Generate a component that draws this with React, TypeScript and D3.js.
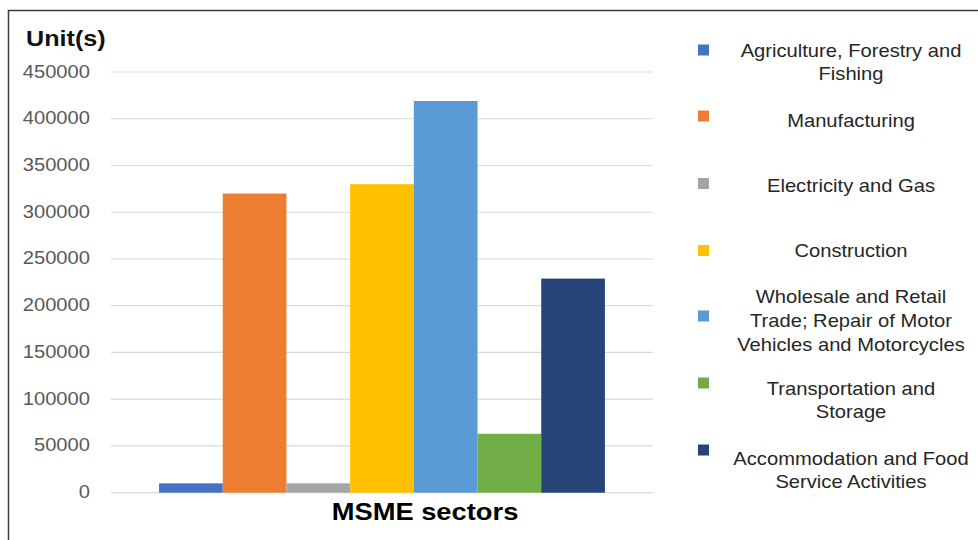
import React from "react";
import * as d3 from "d3";

// ---- data ----
const sectors: string[] = [
  "Agriculture, Forestry and Fishing",
  "Manufacturing",
  "Electricity and Gas",
  "Construction",
  "Wholesale and Retail Trade; Repair of Motor Vehicles and Motorcycles",
  "Transportation and Storage",
  "Accommodation and Food Service Activities",
];
const units: number[] = [10000, 320000, 10000, 330000, 419000, 63000, 229000];
const colors: string[] = ["#4472C4", "#ED7D31", "#A5A5A5", "#FFC000", "#5B9BD5", "#70AD47", "#264478"];
const legendLines: string[][] = [
  ["Agriculture, Forestry and", "Fishing"],
  ["Manufacturing"],
  ["Electricity and Gas"],
  ["Construction"],
  ["Wholesale and Retail", "Trade; Repair of Motor", "Vehicles and Motorcycles"],
  ["Transportation and", "Storage"],
  ["Accommodation and Food", "Service Activities"],
];
const yTicks: number[] = [0, 50000, 100000, 150000, 200000, 250000, 300000, 350000, 400000, 450000];
const yTitle = "Unit(s)";
const xTitle = "MSME sectors";

// ---- layout ----
const W = 978;
const H = 540;
const plotLeft = 111;
const plotRight = 653;
const plotTop = 72;
const plotBottom = 492.7;
const SX = 1.12; // horizontal text stretch
const FONT = "'Liberation Sans', Arial, sans-serif";
const legendSquareY = [50, 116, 183.5, 250.5, 316, 383, 450];
const legendTextY = [50, 120, 185.5, 250, 296.7, 388, 458];
const legendLineH = 23.8;

export default function App() {
  const y = d3.scaleLinear().domain([0, 450000]).range([plotBottom, plotTop]);
  const x = d3
    .scaleBand<string>()
    .domain(sectors)
    .range([plotLeft, plotRight])
    .paddingInner(0)
    .paddingOuter(0.755);

  const T = (
    tx: number,
    ty: number,
    content: string,
    props: React.SVGProps<SVGTextElement>
  ) => (
    <text transform={`translate(${tx},${ty}) scale(${SX},1)`} x={0} y={0} fontFamily={FONT} {...props}>
      {content}
    </text>
  );

  return (
    <svg
      width={W}
      height={H}
      viewBox={`0 0 ${W} ${H}`}
      style={{ position: "absolute", left: 0, top: 0, background: "#fff" }}
    >
      <rect x={0} y={0} width={W} height={H} fill="#fff" />
      {/* frame */}
      <rect x={8.5} y={10.5} width={1200} height={800} fill="none" stroke="#3a3a3a" strokeWidth={1.5} />

      {/* gridlines */}
      {yTicks.map((t) => (
        <line
          key={"g" + t}
          x1={plotLeft}
          x2={plotRight}
          y1={y(t)}
          y2={y(t)}
          stroke="#D9D9D9"
          strokeWidth={1.2}
        />
      ))}

      {/* y tick labels */}
      {yTicks.map((t) => (
        <React.Fragment key={"l" + t}>
          {T(90, y(t) + 5.5, String(t), { fontSize: 18, fill: "#595959", textAnchor: "end" })}
        </React.Fragment>
      ))}

      {/* bars */}
      {sectors.map((s, i) => (
        <rect
          key={s}
          x={x(s)!}
          y={y(units[i])}
          width={x.bandwidth()}
          height={y(0) - y(units[i])}
          fill={colors[i]}
        />
      ))}

      {/* titles */}
      {T(26, 46, yTitle, { fontSize: 22.5, fontWeight: "bold", fill: "#111" })}
      {T(425, 520, xTitle, { fontSize: 24.4, fontWeight: "bold", fill: "#000", textAnchor: "middle" })}

      {/* legend */}
      {sectors.map((s, i) => (
        <g key={"lg" + s}>
          <rect x={698} y={legendSquareY[i] - 5.5} width={11} height={11} fill={colors[i]} />
          {legendLines[i].map((ln, j) => (
            <React.Fragment key={ln}>
              {T(851, legendTextY[i] + j * legendLineH + 6.5, ln, {
                fontSize: 18,
                fill: "#262626",
                textAnchor: "middle",
              })}
            </React.Fragment>
          ))}
        </g>
      ))}
    </svg>
  );
}
